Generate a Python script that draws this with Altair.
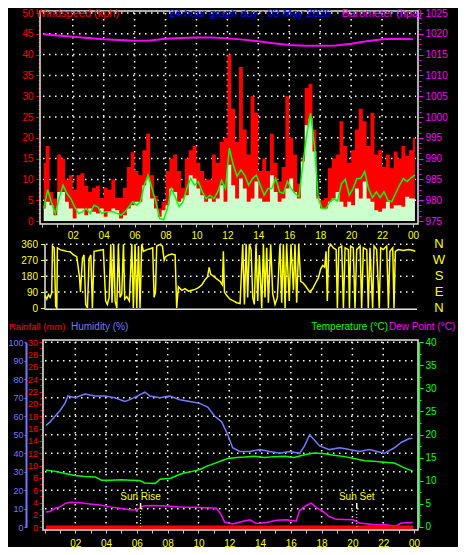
import altair as alt
import pandas as pd

# ---------------- texts ----------------
title_main = "24 hour graph day : 03 May 2026"
title_wind = "Windspeed (kph)"
title_baro = "Barometer (hpa)"
title_rain = "Rainfall (mm)"
title_hum = "Humidity (%)"
title_temp = "Temperature (°C)"
title_dew = "Dew Point (°C)"

# ---------------- wind (15 minute blocks) ----------------
wind_hours = [round(0.125 + 0.25 * i, 3) for i in range(97)]
wind_gust = [14, 18, 7, 5.4, 16, 15, 10, 11, 7.5, 11, 11.5, 8.5, 7, 8, 8.5, 5.5, 8, 7.5, 10, 5.5, 5.5, 8, 13, 16.5,
             12, 11, 17, 21, 11, 6, 3, 4.6, 12, 15, 16, 12, 8, 15, 17, 18, 14, 12, 10, 10, 16, 14, 19, 20,
             40, 27, 19, 37, 22, 16, 30, 26, 12, 15, 12, 21, 14, 9.5, 13, 30, 20, 16, 9, 15, 32, 33, 22, 6,
             5, 5.5, 12.7, 15, 16, 24, 18, 14, 17, 22, 27, 24, 18, 26, 16, 17, 13, 16, 12.7, 16.7, 15, 18, 15.6, 17, 20]
wind_speed = [3, 4.6, 3.8, 1.4, 7, 7, 4.6, 3, 0.6, 3, 3, 1.4, 3, 2.2, 1.8, 3, 1, 2.2, 3, 2.6, 0.6, 1.4, 3, 3.8,
              4.6, 4.6, 8.6, 10.2, 5.4, 3, 1, 2.6, 3.8, 7.8, 7, 4.6, 5.4, 6.2, 11, 10.2, 7.8, 6.2, 4.6, 5.4, 4.6, 5.4, 8.6, 4.6,
              13.5, 8.6, 5.4, 10.2, 7.8, 4.6, 5.4, 9.5, 5.4, 4.6, 4.6, 11, 7, 4.6, 5.4, 7.8, 10.2, 7, 5.4, 14.3, 23, 24.7, 16.7, 5.4,
              3, 3, 4.6, 5.4, 7, 4.6, 3.4, 4.6, 3.8, 7.8, 5.4, 9.5, 5.4, 4.6, 2.6, 2.2, 3, 4.6, 3, 3.8, 3.8, 3.4, 5.8, 5.4, 5.4]
wind_avg = [3, 7.5, 4.5, 1.8, 5.5, 8.6, 6.6, 5.4, 3.4, 1.8, 2.2, 3, 1.8, 3.8, 3.4, 1.8, 2.2, 2.2, 2.2, 1.8, 1.4, 2.2, 3.4, 4.6,
            3.8, 4.6, 8.6, 11, 7.8, 4.6, 0.6, 0.3, 3, 7.8, 5.8, 3.4, 4.6, 7.8, 10.2, 8.6, 9.5, 7, 5.4, 6.2, 5.4, 7, 9.8, 7.8,
            17.5, 13.5, 10.7, 12.3, 11, 8.6, 10.2, 11, 8.6, 6.2, 7.8, 7.8, 10.2, 7, 6.6, 9.5, 7.8, 6.6, 5.8, 13.5, 20.7, 25.9, 18.3, 5.4,
            3, 3, 4.6, 5.3, 4.8, 9, 10, 6.2, 7.8, 10.2, 10.2, 11.9, 7.8, 5.6, 7, 5.6, 7, 5, 4.6, 6.6, 8.6, 10.2, 9.5, 10.4, 11]

# ---------------- barometer ----------------
baro_hours = [0.1, 1, 2, 3, 4, 5, 6, 7, 8, 9, 10, 11, 12, 13, 14, 15, 16, 17, 18, 19, 20, 21, 22, 23, 24]
baro_hpa = [1019.9, 1019.6, 1019.3, 1019.0, 1018.7, 1018.5, 1018.3, 1018.4, 1018.8, 1019.0, 1019.1, 1019.1, 1018.9,
            1018.6, 1018.2, 1017.7, 1017.3, 1017.1, 1017.1, 1017.2, 1017.6, 1018.2, 1018.7, 1018.8, 1018.7]

# ---------------- wind direction ----------------
dir_hours = [0.21, 0.32, 0.43, 0.54, 0.64, 0.69, 0.80, 0.90, 0.97, 1.01, 1.18, 1.40, 1.61, 1.83, 2.05, 2.26, 2.43, 2.50,
             2.63, 2.73, 2.84, 2.95, 3.06, 3.17, 3.27, 3.38, 3.66, 3.98, 4.13, 4.24, 4.35, 4.46, 4.54, 4.65, 4.74, 4.85,
             4.95, 5.06, 5.17, 5.28, 5.36, 5.49, 5.66, 5.82, 5.92, 6.03, 6.14, 6.25, 6.35, 6.46, 6.57, 6.79, 7.0, 7.17,
             7.26, 7.35, 7.43, 7.65, 7.80, 7.91, 8.01, 8.19, 8.40, 8.62, 8.72, 8.83, 9.05, 9.26, 9.48, 9.70, 9.91, 10.13,
             10.34, 10.56, 10.71, 10.82, 10.92, 11.09, 11.31, 11.53, 11.68, 11.74, 11.81, 11.96, 12.17, 12.39, 12.60,
             12.82, 12.99, 13.10, 13.21, 13.31, 13.42, 13.53, 13.64, 13.74, 13.85, 13.96, 14.07, 14.22, 14.33, 14.43,
             14.54, 14.65, 14.80, 14.93, 15.08, 15.23, 15.40, 15.51, 15.62, 15.73, 15.83, 16.0, 16.11, 16.27, 16.37,
             16.48, 16.61, 16.74, 16.91, 17.09, 17.24, 17.34, 17.52, 17.69, 17.88, 18.03, 18.16, 18.29, 18.38, 18.46,
             18.55, 18.68, 18.85, 19.03, 19.11, 19.20, 19.39, 19.50, 19.61, 19.82, 19.89, 19.97, 20.14, 20.25, 20.36,
             20.58, 20.68, 20.79, 21.01, 21.11, 21.22, 21.39, 21.48, 21.65, 21.82, 21.91, 22.08, 22.30, 22.41, 22.51,
             22.69, 22.77, 22.86, 23.05, 23.38, 23.70, 24.02, 24.15]
dir_deg = [70, 50, 75, 60, 85, 350, 340, 10, 0, 340, 330, 325, 320, 318, 300, 290, 180, 90,
           280, 300, 20, 0, 280, 300, 0, 320, 325, 330, 40, 20, 60, 360, 30, 360, 40, 0,
           360, 60, 80, 360, 50, 65, 40, 360, 0, 360, 0, 350, 0, 360, 320, 330, 335, 340,
           60, 90, 350, 360, 350, 270, 290, 300, 305, 300, 0, 120, 100, 110, 95, 100, 105, 115,
           130, 160, 175, 230, 190, 180, 165, 150, 130, 320, 90, 70, 50, 40, 30,
           25, 360, 20, 360, 60, 360, 330, 60, 20, 360, 40, 300, 0, 360, 60,
           340, 30, 360, 80, 20, 60, 360, 30, 360, 0, 360, 40, 360, 100, 360,
           30, 360, 150, 140, 120, 100, 90, 110, 140, 170, 220, 240, 230, 320, 40,
           340, 360, 340, 330, 0, 340, 350, 0, 340, 330, 0, 350, 340, 0, 330,
           350, 0, 340, 330, 0, 340, 0, 350, 330, 0, 340, 330, 350, 0, 320,
           340, 0, 320, 330, 325, 330, 325, 320]

# ---------------- humidity / temperature / dew point / rain ----------------
hum_hours = [0.1, 0.36, 0.68, 1.0, 1.33, 1.52, 1.98, 2.63, 3.27, 3.92, 4.57, 5.22, 5.54, 6.06, 6.52, 6.84, 7.49,
             8.14, 8.79, 9.44, 10.08, 10.6, 11.06, 11.51, 11.9, 12.22, 12.68, 13.33, 13.98, 14.62, 15.27, 15.92,
             16.57, 16.89, 17.22, 17.54, 17.87, 18.51, 19.16, 19.8, 20.45, 21.1, 21.6, 22.08, 22.73, 23.19, 23.71, 23.9]
humidity = [55, 57, 60, 63, 67, 71, 70, 72, 71, 71, 70, 68, 69, 71, 73, 71, 70, 71, 69, 68, 67, 65, 60, 57, 50,
            43, 41, 41, 42, 41, 40, 41, 40, 44, 50, 47, 44, 42, 43, 42, 41, 42, 41, 40, 43, 46, 48, 48]
temp_hours = [0.1, 0.7, 1.4, 2.0, 2.6, 3.3, 3.7, 4.3, 5.0, 5.6, 6.2, 6.5, 7.2, 7.5, 8.2, 8.6, 9.0, 9.6, 10.1, 10.6,
              11.1, 11.5, 11.9, 12.5, 13.0, 13.6, 14.3, 14.9, 15.6, 16.2, 16.9, 17.5, 18.2, 18.8, 19.5, 20.1, 20.8,
              21.4, 22.1, 22.7, 23.05, 23.4, 23.9]
temperature = [12.3, 12.0, 11.5, 11.1, 10.9, 10.8, 10.1, 10.1, 10.2, 10.1, 10.0, 9.5, 9.4, 10.3, 10.5, 11.1, 11.6,
               12.0, 12.4, 13.2, 13.8, 14.3, 14.8, 15.0, 15.1, 15.3, 15.0, 15.2, 15.3, 15.0, 15.6, 16.0, 15.8, 15.5,
               15.2, 14.8, 14.3, 14.2, 14.0, 13.8, 13.3, 12.7, 12.1]
dew_hours = [0.1, 0.36, 0.68, 1.0, 1.33, 1.65, 2.3, 2.95, 3.6, 4.25, 4.9, 5.54, 5.98, 6.41, 7.06, 7.92, 8.79, 9.65,
             10.52, 11.17, 11.49, 11.7, 12.24, 12.89, 13.33, 13.76, 14.41, 15.06, 15.71, 16.35, 16.57, 17.0, 17.33,
             17.65, 18.08, 18.5, 18.95, 20.03, 20.46, 21.32, 22.19, 22.84, 23.16, 23.92]
dew_point = [3.2, 3.3, 4.0, 4.3, 5.0, 5.3, 5.2, 4.9, 4.7, 4.3, 4.0, 3.7, 3.6, 4.5, 4.6, 4.5, 4.3, 4.2, 4.1, 4.0, 2.5,
             1.0, 0.6, 1.2, 1.5, 0.7, 0.9, 1.4, 1.5, 1.2, 3.5, 4.6, 5.1, 4.2, 3.3, 2.2, 1.6, 1.5, 0.8, 0.5, 0.4, 0.1,
             0.8, 0.9]
rain_hours = [0.1, 23.95]
rain_mm = [0, 0]

sun_hours = [6.24, 20.28]
sun_labels = ["Sun Rise", "Sun Set"]
compass_letters = ["N", "W", "S", "E", "N"]
compass_deg = [360, 270, 180, 90, 0]

# ---------------- ticks ----------------
hour_ticks = list(range(0, 25))
hour_grid = list(range(2, 24, 2))
wind_ticks = list(range(0, 51, 5))
wind_minor = list(range(0, 51))
wind_grid = list(range(5, 51, 5))
baro_ticks = list(range(975, 1026, 5))
baro_minor = [975 + 1.25 * k for k in range(41)]
dir_ticks = [0, 90, 180, 270, 360]
dir_grid = [90, 180, 270, 360]
hum_ticks = list(range(0, 101, 10))
hum_grid = list(range(10, 101, 10))
rain_ticks = list(range(0, 31, 2))
rain_minor = list(range(0, 31))
temp_ticks = list(range(0, 41, 5))
temp_minor = [2.5 * k for k in range(17)]

# ---------------- style ----------------
FONT = "Liberation Sans"
RED, PALE, GREEN, MAG = "#ff0000", "#ccffcc", "#00ff00", "#ff00ff"
BLUE, HUMC, YEL, FRAME, DOT = "#0000ff", "#7777ff", "#ffff00", "#e6e6e6", "#ffffff"
W, H = 377, 519

X_TOP = alt.Scale(domain=[0, 24], range=[0.8, 372], nice=False, zero=False)
X_BOT = alt.Scale(domain=[0, 24], range=[3.5, 373], nice=False, zero=False)
Y_WIND = alt.Scale(domain=[0, 50], range=[210, 2], nice=False, zero=False)
Y_BARO = alt.Scale(domain=[975, 1025], range=[210, 2], nice=False, zero=False)
Y_DIR = alt.Scale(domain=[0, 360], range=[297, 233.3], nice=False, zero=False)
Y_HUM = alt.Scale(domain=[0, 100], range=[516.3, 331.3], nice=False, zero=False)
Y_RAIN = alt.Scale(domain=[0, 30], range=[516.3, 331.3], nice=False, zero=False)
Y_TEMP = alt.Scale(domain=[0, 40], range=[515.7, 331.3], nice=False, zero=False)

one = pd.DataFrame({"k": [0]})
HOUR_LABEL = ("datum.value % 2 == 0 && datum.value > 0 ? "
              "((datum.value % 24) < 10 ? '0' : '') + (datum.value % 24) : ''")


def yaxis(orient, offset, values, color, size, labels=True, pad=2, domain=False, dcolor=None, dwidth=1,
          ddash=None, fsize=10):
    kw = dict(orient=orient, offset=offset, values=values, tickSize=size, tickColor=color, tickWidth=1,
              labels=labels, labelColor=color, labelFont=FONT, labelFontSize=fsize, labelPadding=pad,
              labelFlush=False, labelOverlap=False, grid=False, title=None, domain=domain, format="d")
    if domain:
        kw["domainColor"] = dcolor or color
        kw["domainWidth"] = dwidth
        if ddash:
            kw["domainDash"] = ddash
    return alt.Axis(**kw)


def y_axis_layer(values, scale, axis):
    return alt.Chart(pd.DataFrame({"v": values})).mark_point(opacity=0).encode(
        y=alt.Y("v:Q", scale=scale, axis=axis), x=alt.value(0))


def x_axis_layer(scale, offset, pad):
    ax = alt.Axis(orient="bottom", offset=offset, values=hour_ticks, labelExpr=HOUR_LABEL, tickSize=3,
                  tickColor="#cccccc", domain=False, labelColor=YEL, labelFont=FONT, labelFontSize=10,
                  labelPadding=pad, labelFlush=False, labelOverlap=False, grid=False, title=None)
    return alt.Chart(pd.DataFrame({"h": hour_ticks})).mark_point(opacity=0).encode(
        x=alt.X("h:Q", scale=scale, axis=ax), y=alt.value(0))


def hgrid(values, scale, x1, x2):
    return alt.Chart(pd.DataFrame({"v": values})).mark_rule(
        color=DOT, strokeDash=[1.5, 4.5], strokeWidth=1.5).encode(
        y=alt.Y("v:Q", scale=scale, axis=None), x=alt.value(x1), x2=alt.value(x2))


def vgrid(values, scale, y1, y2):
    return alt.Chart(pd.DataFrame({"h": values})).mark_rule(
        color=DOT, strokeDash=[1.5, 4.5], strokeWidth=1.5).encode(
        x=alt.X("h:Q", scale=scale, axis=None), y=alt.value(y1), y2=alt.value(y2))


def text(s, x, y, color, align="left", size=11, baseline="middle"):
    return alt.Chart(one).mark_text(text=s, color=color, font=FONT, fontSize=size, align=align,
                                    baseline=baseline).encode(x=alt.value(x), y=alt.value(y))


layers = []

# grids
layers += [hgrid(wind_grid, Y_WIND, 2, 375), vgrid(hour_grid, X_TOP, 2, 212),
           hgrid(dir_grid, Y_DIR, 5, 375),
           hgrid(hum_grid, Y_HUM, 4, 375), vgrid(hour_grid, X_BOT, 331, 518)]

# wind panel
wind_df = pd.DataFrame({"h": wind_hours, "gust": wind_gust, "speed": wind_speed, "avg": wind_avg})
layers.append(alt.Chart(wind_df).mark_area(interpolate="step", color=RED).encode(
    x=alt.X("h:Q", scale=X_TOP, axis=None), y=alt.Y("gust:Q", scale=Y_WIND, axis=None), y2=alt.datum(0)))
layers.append(alt.Chart(wind_df).mark_area(interpolate="step", color=PALE).encode(
    x=alt.X("h:Q", scale=X_TOP, axis=None), y=alt.Y("speed:Q", scale=Y_WIND, axis=None), y2=alt.datum(0)))
layers.append(alt.Chart(wind_df).mark_line(interpolate="linear", color=GREEN, strokeWidth=1.5).encode(
    x=alt.X("h:Q", scale=X_TOP, axis=None), y=alt.Y("avg:Q", scale=Y_WIND, axis=None)))
layers.append(alt.Chart(pd.DataFrame({"h": baro_hours, "p": baro_hpa})).mark_line(color=MAG, strokeWidth=2).encode(
    x=alt.X("h:Q", scale=X_TOP, axis=None), y=alt.Y("p:Q", scale=Y_BARO, axis=None)))

# direction panel
layers.append(alt.Chart(pd.DataFrame({"h": dir_hours, "d": dir_deg})).mark_line(color=YEL, strokeWidth=1.5).encode(
    x=alt.X("h:Q", scale=X_TOP, axis=None), y=alt.Y("d:Q", scale=Y_DIR, axis=None)))
layers.append(alt.Chart(pd.DataFrame({"c": compass_letters, "d": compass_deg})).mark_text(
    color=YEL, font=FONT, fontSize=13, align="center", baseline="middle").encode(
    text="c:N", y=alt.Y("d:Q", scale=Y_DIR, axis=None), x=alt.value(398)))

# bottom panel
layers.append(alt.Chart(pd.DataFrame({"h": hum_hours, "v": humidity})).mark_line(color=HUMC, strokeWidth=1.5).encode(
    x=alt.X("h:Q", scale=X_BOT, axis=None), y=alt.Y("v:Q", scale=Y_HUM, axis=None)))
layers.append(alt.Chart(pd.DataFrame({"h": temp_hours, "v": temperature})).mark_line(color=GREEN, strokeWidth=1.5).encode(
    x=alt.X("h:Q", scale=X_BOT, axis=None), y=alt.Y("v:Q", scale=Y_TEMP, axis=None)))
layers.append(alt.Chart(pd.DataFrame({"h": dew_hours, "v": dew_point})).mark_line(color=MAG, strokeWidth=1.5).encode(
    x=alt.X("h:Q", scale=X_BOT, axis=None), y=alt.Y("v:Q", scale=Y_TEMP, axis=None)))
layers.append(alt.Chart(pd.DataFrame({"h": rain_hours, "v": rain_mm})).mark_line(color=RED, strokeWidth=3.5).encode(
    x=alt.X("h:Q", scale=X_BOT, axis=None), y=alt.Y("v:Q", scale=Y_RAIN, axis=None)))

sun_df = pd.DataFrame({"h": sun_hours, "t": sun_labels})
layers.append(alt.Chart(sun_df).mark_rule(color="#ffffff", strokeWidth=1.5).encode(
    x=alt.X("h:Q", scale=X_BOT, axis=None), y=alt.value(492), y2=alt.value(497)))
layers.append(alt.Chart(sun_df).mark_rule(color=YEL, strokeWidth=1, strokeDash=[1, 2]).encode(
    x=alt.X("h:Q", scale=X_BOT, axis=None), y=alt.value(497), y2=alt.value(516)))
layers.append(alt.Chart(sun_df).mark_text(color=YEL, font=FONT, fontSize=10, align="center", baseline="middle").encode(
    x=alt.X("h:Q", scale=X_BOT, axis=None), y=alt.value(486), text="t:N"))

# frames
layers.append(alt.Chart(one).mark_rect(filled=False, stroke=FRAME, strokeWidth=1.5).encode(
    x=alt.value(-1), x2=alt.value(377), y=alt.value(0), y2=alt.value(213)))
layers.append(alt.Chart(one).mark_rect(filled=False, stroke=FRAME, strokeWidth=1.5).encode(
    x=alt.value(2), x2=alt.value(377), y=alt.value(329), y2=alt.value(519)))
layers.append(alt.Chart(one).mark_rule(color=FRAME, strokeWidth=1.5).encode(
    x=alt.value(3.5), x2=alt.value(376), y=alt.value(298.3)))

# axes
layers += [
    y_axis_layer(wind_ticks, Y_WIND, yaxis("left", 1, wind_ticks, RED, 4, pad=3)),
    y_axis_layer(wind_minor, Y_WIND, yaxis("left", 1, wind_minor, RED, 2, labels=False)),
    y_axis_layer(baro_ticks, Y_BARO, yaxis("right", 1, baro_ticks, MAG, 4, pad=2)),
    y_axis_layer(baro_minor, Y_BARO, yaxis("right", 1, baro_minor, MAG, 2, labels=False)),
    y_axis_layer(dir_ticks, Y_DIR, yaxis("left", -3.5, dir_ticks, YEL, 4, pad=3, domain=True,
                                         dcolor=FRAME, dwidth=1.5)),
    y_axis_layer(hum_ticks, Y_HUM, yaxis("left", 15, hum_ticks, HUMC, 2, pad=1, domain=True, dwidth=2,
                                         fsize=9)),
    y_axis_layer(rain_ticks, Y_RAIN, yaxis("left", -1, rain_ticks, RED, 3, pad=1.5, domain=True,
                                           dwidth=1, ddash=[1, 1], fsize=9)),
    y_axis_layer(rain_minor, Y_RAIN, yaxis("left", -1, rain_minor, RED, 2, labels=False)),
    y_axis_layer(temp_ticks, Y_TEMP, yaxis("right", 1, temp_ticks, GREEN, 4, pad=2, domain=True, dwidth=1.5)),
    y_axis_layer(temp_minor, Y_TEMP, yaxis("right", 1, temp_minor, GREEN, 2, labels=False)),
    x_axis_layer(X_TOP, -306, 3),
    x_axis_layer(X_BOT, 0, 5),
]

# titles
layers += [
    text(title_wind, -5, -3, RED, baseline="top"),
    text(title_main, 209, -3, BLUE, align="center", baseline="top"),
    text(title_baro, 381, -3, MAG, align="right", baseline="top"),
    text(title_rain, -32, 316, RED, size=9.5),
    text(title_hum, 30, 316, HUMC, size=10),
    text(title_temp, 347, 316, GREEN, align="right", size=10),
    text(title_dew, 348, 316, MAG, size=10),
]

chart = alt.layer(*layers).resolve_scale(x="independent", y="independent").properties(
    width=W, height=H,
    padding={"left": 33, "top": 3, "right": 40, "bottom": 17},
    autosize=alt.AutoSizeParams(type="none"),
).configure(background="#000000").configure_view(strokeWidth=0)

chart.save("out.html", embed_options={"renderer": "svg", "actions": False})
